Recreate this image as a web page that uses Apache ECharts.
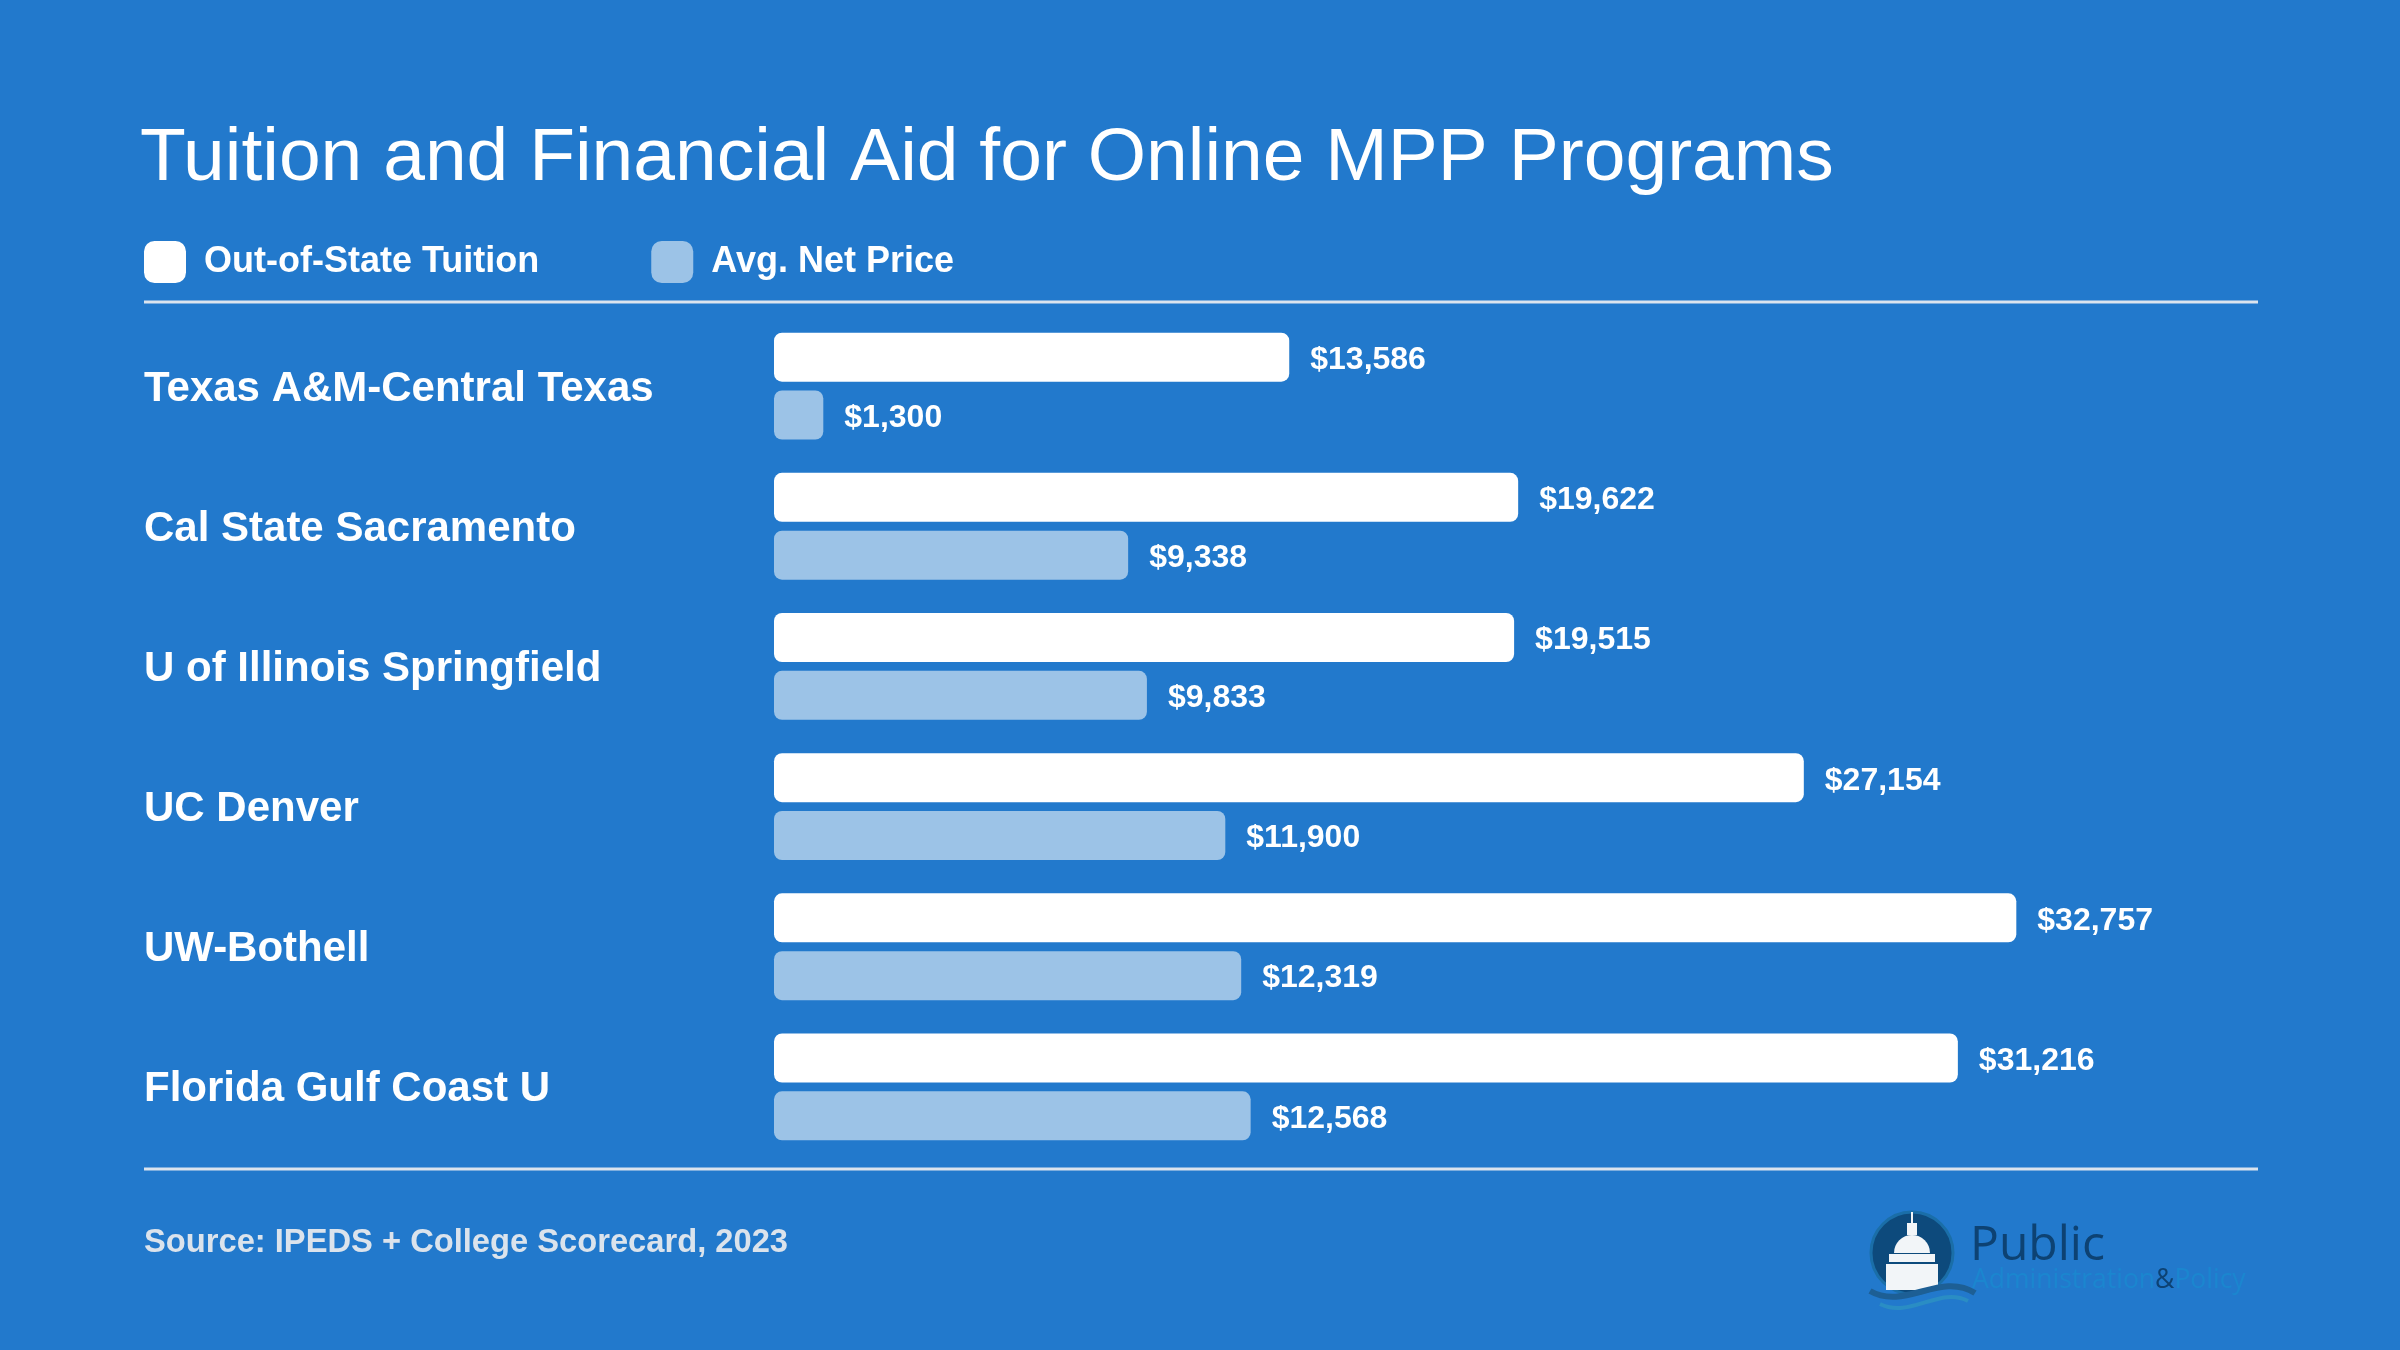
<!DOCTYPE html>
<html>
<head>
<meta charset="utf-8">
<script src="https://cdn.jsdelivr.net/npm/echarts@6/dist/echarts.min.js"></script>
<style>
  html, body { margin: 0; padding: 0; background: #2279cc; }
  #chart { width: 2400px; height: 1350px; }
</style>
</head>
<body>
<div id="chart"></div>
<script>
const categories = [
  "Texas A&M-Central Texas",
  "Cal State Sacramento",
  "U of Illinois Springfield",
  "UC Denver",
  "UW-Bothell",
  "Florida Gulf Coast U",
];
const tuition = [13586, 19622, 19515, 27154, 32757, 31216];
const netPrice = [1300, 9338, 9833, 11900, 12319, 12568];
const seriesNames = ["Out-of-State Tuition", "Avg. Net Price"];

const FONT = "'Liberation Sans', Arial, Helvetica, sans-serif";
const BG = "#2279cc";
const RULE = "#dbe4ee";

const fmt = (v) => "$" + v.toLocaleString("en-US");

const barLabel = {
  show: true,
  position: "right",
  distance: 21,
  offset: [0, 3],
  color: "#ffffff",
  fontFamily: FONT,
  fontWeight: "bold",
  fontSize: 32,
  formatter: (p) => fmt(p.value),
};

const chart = echarts.init(document.getElementById("chart"));

const option = {
  backgroundColor: BG,
  animation: false,
  title: {
    text: "Tuition and Financial Aid for Online MPP Programs",
    left: 140,
    top: 122,
    padding: 0,
    textStyle: {
      color: "#ffffff",
      fontFamily: FONT,
      fontWeight: "normal",
      fontSize: 75,
    },
  },
  legend: {
    left: 144,
    top: 241,
    padding: 0,
    icon: "roundRect",
    itemWidth: 42,
    itemHeight: 42,
    itemGap: 112,
    data: seriesNames,
    textStyle: {
      color: "#ffffff",
      fontFamily: FONT,
      fontWeight: "bold",
      fontSize: 36,
      padding: [0, 0, 0, 13],
    },
  },
  grid: {
    left: 774,
    top: 316,
    width: 1517,
    height: 841,
    containLabel: false,
  },
  xAxis: {
    type: "value",
    min: 0,
    max: 40000,
    show: false,
  },
  yAxis: {
    type: "category",
    data: categories,
    inverse: true,
    axisLine: { show: false },
    axisTick: { show: false },
    splitLine: { show: false },
    axisLabel: {
      align: "left",
      margin: 630,
      formatter: (v) => "{c|" + v + "}",
      rich: {
        c: {
          color: "#ffffff",
          fontFamily: FONT,
          fontWeight: "bold",
          fontSize: 42,
          padding: [6, 0, 0, 0],
        },
      },
    },
  },
  series: [
    {
      name: seriesNames[0],
      type: "bar",
      data: tuition,
      barWidth: 49,
      barGap: "18%",
      itemStyle: { color: "#ffffff", borderRadius: 8 },
      label: barLabel,
    },
    {
      name: seriesNames[1],
      type: "bar",
      data: netPrice,
      barWidth: 49,
      barGap: "18%",
      itemStyle: { color: "#9cc3e7", borderRadius: 8 },
      label: barLabel,
    },
  ],
  graphic: [
    {
      type: "line",
      shape: { x1: 144, y1: 302, x2: 2258, y2: 302 },
      style: { stroke: RULE, lineWidth: 3 },
    },
    {
      type: "line",
      shape: { x1: 144, y1: 1169, x2: 2258, y2: 1169 },
      style: { stroke: RULE, lineWidth: 3 },
    },
    {
      type: "text",
      style: {
        text: "Source: IPEDS + College Scorecard, 2023",
        x: 144,
        y: 1243,
        verticalAlign: "middle",
        fill: "#dbe3ec",
        font: "bold 32.7px " + FONT,
      },
    },
    // logo
    {
      type: "group",
      children: [
        {
          type: "circle",
          shape: { cx: 1912, cy: 1253, r: 41 },
          style: { fill: "#0d4a7c", stroke: "#1a6ea8", lineWidth: 3 },
        },
        {
          type: "rect",
          shape: { x: 1889, y: 1254, width: 46, height: 8 },
          style: { fill: "#f2f5f8" },
        },
        {
          type: "sector",
          shape: { cx: 1912, cy: 1253, r: 18, startAngle: Math.PI, endAngle: Math.PI * 2 },
          style: { fill: "#f2f5f8" },
        },
        {
          type: "rect",
          shape: { x: 1907, y: 1223, width: 10, height: 12 },
          style: { fill: "#f2f5f8" },
        },
        {
          type: "rect",
          shape: { x: 1911, y: 1212, width: 2, height: 12 },
          style: { fill: "#f2f5f8" },
        },
        {
          type: "rect",
          shape: { x: 1886, y: 1264, width: 52, height: 26 },
          style: { fill: "#f2f5f8" },
        },
        {
          type: "bezierCurve",
          shape: { x1: 1870, y1: 1291, x2: 1975, y2: 1293, cpx1: 1905, cpy1: 1311, cpx2: 1940, cpy2: 1271 },
          style: { stroke: "#1d5f95", lineWidth: 6, fill: null },
        },
        {
          type: "bezierCurve",
          shape: { x1: 1880, y1: 1304, x2: 1968, y2: 1301, cpx1: 1910, cpy1: 1319, cpx2: 1940, cpy2: 1286 },
          style: { stroke: "#2a8dc4", lineWidth: 4, fill: null },
        },
        {
          type: "text",
          style: {
            text: "Public",
            x: 1970,
            y: 1270,
            verticalAlign: "bottom",
            fill: "#0d4273",
            font: "48px 'Open Sans', 'Noto Sans', sans-serif",
          },
        },
        {
          type: "text",
          style: {
            rich: {
              a: { fill: "#1b86cf", font: "26.5px 'Open Sans', 'Noto Sans', sans-serif" },
              b: { fill: "#0d4273", font: "26.5px 'Open Sans', 'Noto Sans', sans-serif" },
            },
            text: "{a|Administration}{b|&}{a|Policy}",
            x: 1972,
            y: 1280,
            verticalAlign: "middle",
          },
        },
      ],
    },
  ],
};

chart.setOption(option);
</script>
</body>
</html>
